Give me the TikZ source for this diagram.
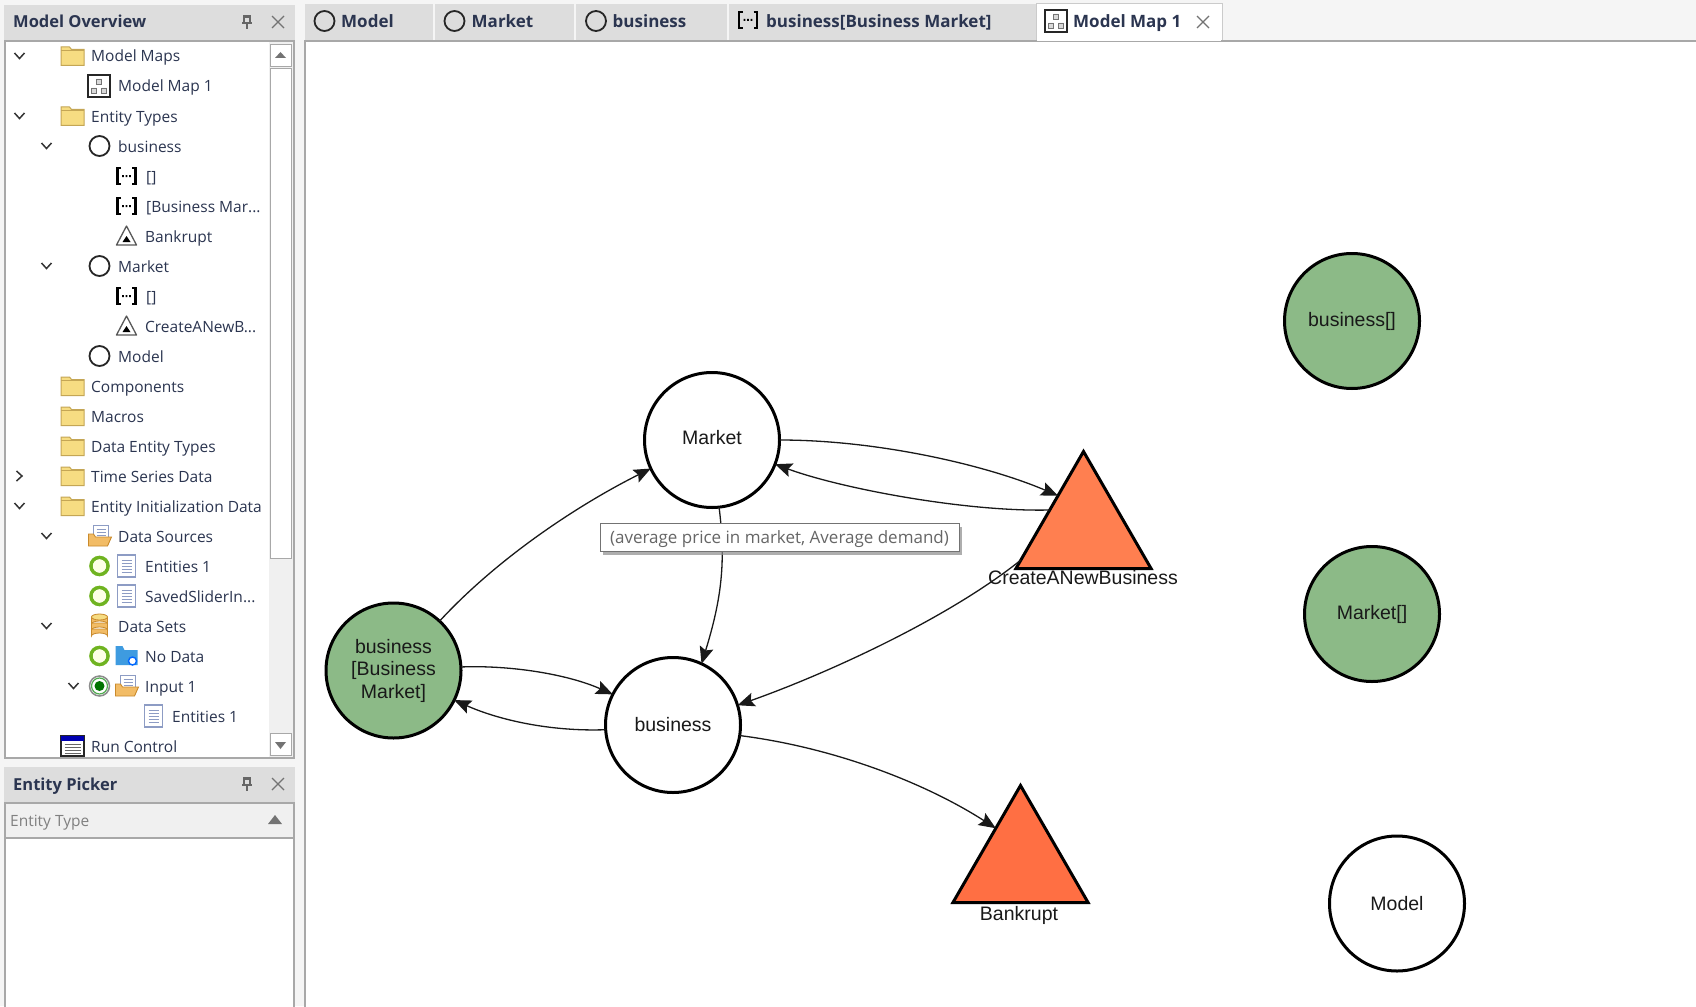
\documentclass[tikz,border=0pt]{standalone}
\usepackage{fontspec}
\setmainfont{Open Sans}
\newfontfamily\arialf{Liberation Sans}
\usetikzlibrary{arrows.meta,shapes.geometric,shadows}
\definecolor{txt}{HTML}{2B3550}
\definecolor{barbg}{HTML}{DDDDDD}
\definecolor{bord}{HTML}{A8A8A8}
\definecolor{nodegreen}{HTML}{8CBA87}
\definecolor{tricoral}{HTML}{FF7F50}
\definecolor{triorange}{HTML}{FF6F43}
\definecolor{foldy}{HTML}{F6DC82}
\definecolor{foldb}{HTML}{C4A655}
\definecolor{docb}{HTML}{8D9CC4}
\definecolor{ringg}{HTML}{6FB320}
\definecolor{srcf}{HTML}{F2BC66}
\definecolor{srcb}{HTML}{C98A2C}
\definecolor{skyf}{HTML}{3E9BE0}
\tikzset{
  x=1pt,y=-1pt,
  treetext/.style={anchor=base west,inner sep=0pt,text=txt,yshift=-6pt,font=\fontsize{15.5}{18}\selectfont},
  bartitle/.style={anchor=base west,inner sep=0pt,text=txt,yshift=-6pt,font=\fontsize{16.5}{19}\selectfont\bfseries},
  tabtext/.style={anchor=base west,inner sep=0pt,text=txt,yshift=-6pt,font=\fontsize{17}{19}\selectfont\bfseries},
  circnode/.style={circle,draw=black,line width=3pt,minimum size=135pt,inner sep=0pt,outer sep=0pt,align=center,text=black!90,font=\arialf\fontsize{19.5}{22.5}\selectfont},
  trinode/.style={regular polygon,regular polygon sides=3,draw=black,line width=3pt,minimum size=156pt,inner sep=0pt,outer sep=0pt,line join=miter},
  nlabel/.style={inner sep=0pt,text=black!90,font=\arialf\fontsize{19.5}{22.5}\selectfont},
  link/.style={draw=black!90,line width=1.3pt,-{Stealth[length=17pt,width=14pt,inset=3pt]}},
  tip/.style={draw=black!55,fill=white,line width=1pt,minimum width=359pt,minimum height=28pt,inner sep=0pt,text=black!60,font=\fontsize{17}{19}\selectfont,drop shadow={shadow xshift=3pt,shadow yshift=-3pt,fill=black!45,opacity=.7}},
  chevd/.pic={\draw[black!80,line width=1.5pt] (-5,-3)--(0,2.5)--(5,-3);},
  chevr/.pic={\draw[black!80,line width=1.5pt] (-3,-5)--(2.5,0)--(-3,5);},
  folderi/.pic={\filldraw[fill=foldy,draw=foldb,line width=1pt] (-11.5,-9)--(-3,-9)--(-1,-6.5)--(11.5,-6.5)--(11.5,9.5)--(-11.5,9.5)--cycle; \draw[foldb,line width=.7pt] (-11.5,-5.5)--(11.5,-5.5);},
  circi/.pic={\draw[black!85,line width=1.8pt] (0,0) circle[radius=10];},
  bracki/.pic={\draw[black,line width=2.4pt] (-5.5,-8)--(-9,-8)--(-9,8)--(-5.5,8) (5.5,-8)--(9,-8)--(9,8)--(5.5,8);
     \fill[black] (-4.4,-1) rectangle (-2.6,1) (-.9,-1) rectangle (.9,1) (2.6,-1) rectangle (4.4,1);},
  trii/.pic={\draw[black!65,line width=1.3pt,line join=round] (0,-10)--(10,9)--(-10,9)--cycle; \fill[black] (0,0)--(4,6)--(-4,6)--cycle;},
  mapi/.pic={\draw[black!85,fill=white,line width=1.3pt] (-11,-11) rectangle (11,11);
     \draw[black!55,fill=black!15,line width=.9pt] (-2.5,-7) rectangle (2.5,-2) (-7.5,2) rectangle (-2.5,7) (2.5,2) rectangle (7.5,7);},
  doci/.pic={\filldraw[fill=white,draw=docb,line width=1.2pt] (-9,-11) rectangle (9,11);
     \draw[docb,line width=.9pt] (-5,-6)--(5,-6) (-5,-3)--(5,-3) (-5,0)--(5,0) (-5,3)--(5,3) (-5,6)--(5,6);},
  ringi/.pic={\draw[ringg,line width=3.6pt] (0,0) circle[radius=8.5]; \fill[green!6!yellow!10] (0,0) circle[radius=6.6];},
  radioi/.pic={\draw[black!45,line width=1.5pt] (0,0) circle[radius=10]; \draw[green!35!gray,line width=1.2pt] (0,0) circle[radius=8]; \fill[green!45!black] (0,0) circle[radius=5];},
  srci/.pic={\filldraw[fill=white,draw=docb,line width=1pt] (-6,-11) rectangle (9,3);
     \draw[docb,line width=.8pt] (-3,-7)--(6,-7) (-3,-4)--(6,-4) (-3,-1)--(6,-1);
     \filldraw[fill=srcf,draw=srcb,line width=.9pt] (-11,-2)--(-6,-2)--(-4,1)--(12,1)--(8,10)--(-11,10)--cycle;},
  seti/.pic={\foreach \t in {3,-3,-9}{\filldraw[fill=srcf,draw=srcb,line width=.8pt] (-8,\t)--(-8,\t+7) arc[x radius=8,y radius=3,start angle=180,end angle=360,y=1pt]--(8,\t)--cycle;}
     \filldraw[fill=foldy,draw=srcb,line width=.8pt] (0,-9) ellipse[x radius=8,y radius=3];},
  nodatai/.pic={\fill[skyf] (-11,-10)--(-4,-10)--(-2,-6)--(11,-6)--(11,9)--(-11,9)--cycle;
     \filldraw[fill=white,draw=blue!60!cyan,line width=1.4pt] (6,5) circle[radius=4];},
  runi/.pic={\filldraw[fill=white,draw=black!85,line width=1.2pt] (-11.5,-10)rectangle(11.5,10); \fill[blue!70!black] (-11.5,-10) rectangle (11.5,-5);
     \draw[black!60,line width=.8pt] (-8,-2)--(8,-2) (-8,1)--(8,1) (-8,4)--(8,4) (-8,7)--(8,7);},
  pini/.pic={\draw[black!60,line width=1.1pt] (-3.5,-6) rectangle (3.5,-5) (-5,1)--(5,1) (0,1)--(0,7) (-3,-5)--(-3,1) (3,-5)--(3,1);},
  closei/.pic={\draw[black!55,line width=1.2pt] (-6,-6)--(6,6) (-6,6)--(6,-6);},
}
\begin{document}
\begin{tikzpicture}
\useasboundingbox (0,0) rectangle (1696,1006);
% window background
\fill[black!4] (0,0) rectangle (1696,1006);
% left panel: Model Overview
\fill[barbg] (4,5) rectangle (295,41);
\filldraw[fill=white,draw=bord,line width=1.4pt] (5,41) rectangle (294,758);
\fill[black!6] (269,42) rectangle (293,757);
\filldraw[fill=white,draw=bord,line width=1pt] (270,45) rectangle (291,67);
\filldraw[fill=white,draw=bord,line width=1pt] (270,69) rectangle (291,558);
\filldraw[fill=white,draw=bord,line width=1pt] (270,733) rectangle (291,755);
\fill[black!55] (280.5,52)--(286,58)--(275,58)--cycle;
\fill[black!55] (280.5,749)--(286,742)--(275,742)--cycle;
\node[bartitle] (t1) at (13,22) {Model Overview};
\pic at (247,22) {pini}; \pic at (278,22) {closei};
% left panel: Entity Picker
\fill[barbg] (4,767) rectangle (295,803);
\filldraw[fill=white,draw=bord,line width=1.4pt] (5,803) rectangle (294,1012);
\filldraw[fill=black!6,draw=bord,line width=1.4pt] (5,803) rectangle (294,838);
\node[bartitle] (t2) at (13,784) {Entity Picker};
\pic at (247,784) {pini}; \pic at (278,784) {closei};
\node[treetext,text=black!50] (etype) at (10,820) {Entity Type};
\fill[black!55] (275,815)--(282,824)--(268,824)--cycle;
% tree rows
\pic at (19.5,56) {chevd}; \pic at (72.5,56) {folderi}; \node[treetext] (r0) at (91,56) {Model Maps};
\pic at (99,86) {mapi}; \node[treetext] (r1) at (118,86) {Model Map 1};
\pic at (19.5,116) {chevd}; \pic at (72.5,116) {folderi}; \node[treetext] (r2) at (91,116) {Entity Types};
\pic at (46.5,146) {chevd}; \pic at (99.5,146) {circi}; \node[treetext] (r3) at (118,146) {business};
\pic at (126.5,176) {bracki}; \node[treetext] (r4) at (146,176) {[]};
\pic at (126.5,206) {bracki}; \node[treetext] (r5) at (146,206) {[Business Mar...};
\pic at (126.5,236) {trii}; \node[treetext] (r6) at (145,236) {Bankrupt};
\pic at (46.5,266) {chevd}; \pic at (99.5,266) {circi}; \node[treetext] (r7) at (118,266) {Market};
\pic at (126.5,296) {bracki}; \node[treetext] (r8) at (146,296) {[]};
\pic at (126.5,326) {trii}; \node[treetext] (r9) at (145,326) {CreateANewB...};
\pic at (99.5,356) {circi}; \node[treetext] (r10) at (118,356) {Model};
\pic at (72.5,386) {folderi}; \node[treetext] (r11) at (91,386) {Components};
\pic at (72.5,416) {folderi}; \node[treetext] (r12) at (91,416) {Macros};
\pic at (72.5,446) {folderi}; \node[treetext] (r13) at (91,446) {Data Entity Types};
\pic at (19.5,476) {chevr}; \pic at (72.5,476) {folderi}; \node[treetext] (r14) at (91,476) {Time Series Data};
\pic at (19.5,506) {chevd}; \pic at (72.5,506) {folderi}; \node[treetext] (r15) at (91,506) {Entity Initialization Data};
\pic at (46.5,536) {chevd}; \pic at (99.5,536) {srci}; \node[treetext] (r16) at (118,536) {Data Sources};
\pic at (99.5,566) {ringi}; \pic at (126.5,566) {doci}; \node[treetext] (r17) at (145,566) {Entities 1};
\pic at (99.5,596) {ringi}; \pic at (126.5,596) {doci}; \node[treetext] (r18) at (145,596) {SavedSliderIn...};
\pic at (46.5,626) {chevd}; \pic at (99.5,626) {seti}; \node[treetext] (r19) at (118,626) {Data Sets};
\pic at (99.5,656) {ringi}; \pic at (126.5,656) {nodatai}; \node[treetext] (r20) at (145,656) {No Data};
\pic at (73.5,686) {chevd}; \pic at (99.5,686) {radioi}; \pic at (126.5,686) {srci}; \node[treetext] (r21) at (145,686) {Input 1};
\pic at (153.5,716) {doci}; \node[treetext] (r22) at (172,716) {Entities 1};
\pic at (72.5,746) {runi}; \node[treetext] (r23) at (91,746) {Run Control};
% main pane with tabs
\fill[barbg] (305,4) rectangle (1036,40);
\fill[black!4] (1222,4) rectangle (1696,40);
\draw[black!4,line width=1.5pt] (434,4)--(434,40) (575,4)--(575,40) (728,4)--(728,40);
\filldraw[fill=white,draw=bord!60,line width=1pt] (1036,4) rectangle (1222,41);
\filldraw[fill=white,draw=bord,line width=1.4pt] (305,41) rectangle (1700,1012);
\fill[white] (1037,38) rectangle (1221,41.5);
\pic at (324.5,21) {circi}; \node[tabtext] (tab1) at (341,22) {Model};
\pic at (454.5,21) {circi}; \node[tabtext] (tab2) at (471.5,22) {Market};
\pic at (596,21) {circi}; \node[tabtext] (tab3) at (612.5,22) {business};
\pic at (748,20) {bracki}; \node[tabtext] (tab4) at (766,22) {business[Business Market]};
\pic at (1056,21) {mapi}; \node[tabtext] (tab5) at (1073,22) {Model Map 1};
\pic at (1203,22) {closei};
% graph nodes
\node[circnode] (market) at (712,440) {\raisebox{-4.5pt}[0pt][0pt]{Market}};
\node[circnode] (business) at (673,725) {business};
\node[circnode,fill=nodegreen] (bbm) at (393.5,670.5) {business\\[0pt]{[Business}\\Market]};
\node[circnode,fill=nodegreen] (barr) at (1352,321) {business[]};
\node[circnode,fill=nodegreen] (marr) at (1372,614) {Market[]};
\node[circnode] (model) at (1397,903.5) {Model};
\node[trinode,fill=tricoral] (create) at (1083.5,529.5) {};
\node[trinode,fill=triorange] (bankrupt) at (1020.5,863.5) {};
% connectors
\draw[link] (market.0) .. controls +(100,0) and +(-70,-30) .. (create.127);
\draw[link] (create.150) .. controls +(-85,2) and +(65,24) .. (market.-21.6);
\draw[link] (bbm.47) .. controls +(60,-65) and +(-70,35) .. (market.205.6);
\draw[link] (market.-84) .. controls +(7,55) and +(20,-65) .. (business.65);
\draw[link] (create.206) .. controls +(-75,60) and +(85,-30) .. (business.17.6);
\draw[link] (bbm.3) .. controls +(50,-2) and +(-45,-20) .. (business.153);
\draw[link] (business.184) .. controls +(-55,2) and +(45,20) .. (bbm.-26);
\draw[link] (business.-9) .. controls +(95,12) and +(-70,-45) .. (bankrupt.125);
% triangle labels
\node[nlabel] (createlbl) at (1083,578) {CreateANewBusiness};
\node[nlabel] (bankruptlbl) at (1019,915) {Bankrupt};
% tooltip
\node[tip] (tooltip) at (779.5,537.5) {\raisebox{-5.5pt}[0pt][0pt]{(average price in market, Average demand)}};
\end{tikzpicture}
\end{document}
